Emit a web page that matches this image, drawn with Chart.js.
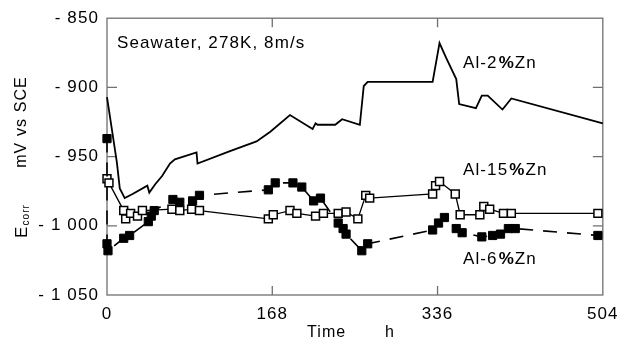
<!DOCTYPE html>
<html>
<head>
<meta charset="utf-8">
<script src="https://cdn.jsdelivr.net/npm/chart.js@4"></script>
<style>
  html, body { margin: 0; padding: 0; background: #fff; }
  #wrap { width: 626px; height: 341px; }
</style>
</head>
<body>
<div id="wrap"><canvas id="myChart" width="626" height="341"></canvas></div>
<script>
// Al-2%Zn: line only
const tAl2 = [0, 10, 13, 18, 26, 41, 43, 49, 56, 64, 69, 91, 92, 125, 152, 166, 186, 209, 212, 214, 232, 239, 257, 261, 265, 331, 338, 345, 355, 358, 375, 381, 387, 402, 411, 504];
const vAl2 = [-907, -954, -973, -980, -977, -971, -976, -970, -964, -955, -952, -947, -955, -946, -939, -932, -920, -930, -926, -927, -927, -923, -927, -899, -896, -896, -868, -879, -894, -912, -915, -906, -906, -916, -908, -926];

// Al-15%Zn: open squares
const tAl15 = [0, 2, 17, 19, 24, 31, 36, 66, 74, 86, 94, 164, 169, 186, 193, 212, 220, 235, 243, 255, 263, 267, 331, 334, 338, 354, 359, 379, 383, 389, 403, 411, 499];
const vAl15 = [-966, -969, -989, -995, -991, -993, -989, -988, -989, -988, -989, -995, -992, -989, -991, -993, -991, -991, -990, -995, -978, -980, -977, -971, -968, -977, -992, -992, -986, -988, -991, -991, -991];

// Al-6%Zn: filled squares, dashed
const tAl6 = [0, 0, 1, 17, 23, 42, 45, 48, 67, 74, 87, 94, 164, 171, 189, 198, 210, 217, 235, 240, 243, 259, 265, 331, 337, 343, 355, 361, 381, 392, 400, 408, 415, 499];
const vAl6 = [-937, -1013, -1018, -1009, -1007, -997, -993, -989, -981, -983, -982, -978, -974, -969, -969, -972, -982, -980, -998, -1002, -1006, -1018, -1013, -1003, -998, -994, -1002, -1005, -1008, -1007, -1006, -1002, -1002, -1007];

const xTicks = [0, 168, 336, 504];
const yTicks = [-850, -900, -950, -1000, -1050];

const pts = (t, v) => t.map((x, i) => ({ x: x, y: v[i] }));

const FONT = "'Liberation Sans', Arial, sans-serif";
const FRAME = "#707070";
const SPACING = "1.1px";

const fmtY = v => {
  const a = Math.abs(v);
  const s = a >= 1000 ? Math.floor(a / 1000) + " " + String(a % 1000).padStart(3, "0") : String(a);
  return "- " + s;
};

const decor = {
  id: "decor",
  beforeDraw(chart) {
    chart.ctx.letterSpacing = SPACING;
  },
  beforeDatasetsDraw(chart) {
    const { ctx, chartArea: a, scales } = chart;
    ctx.save();
    ctx.strokeStyle = FRAME;
    ctx.lineWidth = 1.3;
    ctx.strokeRect(a.left, a.top, a.right - a.left, a.bottom - a.top);
    ctx.beginPath();
    [168, 336].forEach(t => {
      const x = scales.x.getPixelForValue(t);
      ctx.moveTo(x, a.top); ctx.lineTo(x, a.top + 9);
      ctx.moveTo(x, a.bottom); ctx.lineTo(x, a.bottom - 9);
    });
    [-900, -950, -1000].forEach(v => {
      const y = scales.y.getPixelForValue(v);
      ctx.moveTo(a.left, y); ctx.lineTo(a.left + 10, y);
      ctx.moveTo(a.right, y); ctx.lineTo(a.right - 10, y);
    });
    ctx.stroke();
    ctx.restore();
  },
  afterDraw(chart) {
    const { ctx } = chart;
    ctx.save();
    ctx.letterSpacing = SPACING;
    ctx.fillStyle = "#000";
    ctx.textBaseline = "middle";
    ctx.textAlign = "left";
    ctx.font = "17px " + FONT;
    ctx.fillText("Seawater, 278K, 8m/s", 117, 43);

    const alloy = (pre, x, y) => {
      ctx.font = "17px " + FONT;
      ctx.fillText(pre, x, y);
      let w = ctx.measureText(pre).width + 1;
      ctx.font = "bold 17px " + FONT;
      ctx.fillText("%", x + w, y);
      w += ctx.measureText("%").width;
      ctx.font = "17px " + FONT;
      ctx.fillText("Zn", x + w, y);
    };
    alloy("Al-2", 463, 63);
    alloy("Al-15", 463, 170);
    alloy("Al-6", 463, 259);

    ctx.font = "16px " + FONT;
    ctx.fillText("Time", 307, 333);
    ctx.fillText("h", 385, 333);

    ctx.translate(22, 0);
    ctx.rotate(-Math.PI / 2);
    ctx.textAlign = "center";
    ctx.fillText("mV vs SCE", -122, 0);
    ctx.textAlign = "left";
    ctx.font = "17px " + FONT;
    const ew = ctx.measureText("E").width;
    ctx.font = "10px " + FONT;
    const cw = ctx.measureText("corr").width;
    const x0 = -221 - (ew + cw) / 2;
    ctx.font = "17px " + FONT;
    ctx.fillText("E", x0, 0);
    ctx.font = "10px " + FONT;
    ctx.fillText("corr", x0 + ew, 4);
    ctx.restore();
  }
};

const ctx = document.getElementById("myChart").getContext("2d");
const myChart = new Chart(ctx, {
  type: "line",
  data: {
    datasets: [
      {
        label: "Al-2%Zn",
        data: pts(tAl2, vAl2),
        borderColor: "#000",
        borderWidth: 1.8,
        pointRadius: 0,
        tension: 0,
        clip: false
      },
      {
        label: "Al-6%Zn",
        data: pts(tAl6, vAl6),
        borderColor: "#000",
        borderWidth: 1.6,
        borderDash: [14, 10],
        pointStyle: "rect",
        pointRadius: 5.8,
        pointBackgroundColor: "#000",
        pointBorderColor: "#000",
        pointBorderWidth: 1,
        tension: 0,
        clip: false
      },
      {
        label: "Al-15%Zn",
        data: pts(tAl15, vAl15),
        borderColor: "#000",
        borderWidth: 1.3,
        pointStyle: "rect",
        pointRadius: 5.6,
        pointBackgroundColor: "#fff",
        pointBorderColor: "#000",
        pointBorderWidth: 1.5,
        tension: 0,
        clip: false
      }
    ]
  },
  options: {
    responsive: false,
    animation: false,
    events: [],
    layout: { padding: { top: 15, right: 23, left: 0, bottom: 0 } },
    plugins: { legend: { display: false }, tooltip: { enabled: false } },
    scales: {
      x: {
        type: "linear",
        min: 0,
        max: 504,
        afterBuildTicks: s => { s.ticks = xTicks.map(v => ({ value: v })); },
        afterFit: s => { s.height = 46; },
        grid: { display: false, drawTicks: false },
        border: { display: false },
        ticks: { color: "#000", padding: 9, maxRotation: 0, font: { family: FONT, size: 17 } }
      },
      y: {
        type: "linear",
        min: -1050,
        max: -850,
        afterBuildTicks: s => { s.ticks = yTicks.map(v => ({ value: v })); },
        afterFit: s => { s.width = 107; },
        grid: { display: false, drawTicks: false },
        border: { display: false },
        ticks: { color: "#000", padding: 8, callback: fmtY, font: { family: FONT, size: 17 } }
      }
    }
  },
  plugins: [decor]
});
</script>
</body>
</html>
